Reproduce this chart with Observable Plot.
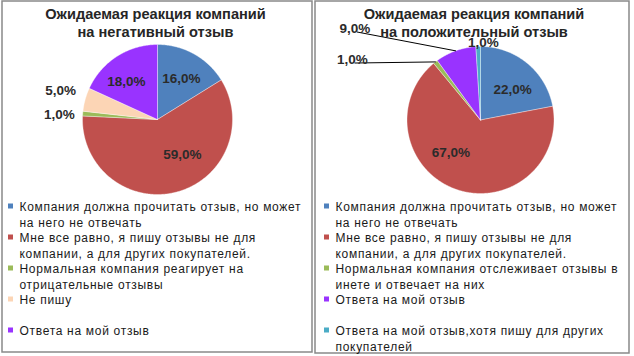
<!DOCTYPE html>
<html><head><meta charset="utf-8">
<script src="https://cdn.jsdelivr.net/npm/d3@7"></script>
<script src="https://cdn.jsdelivr.net/npm/@observablehq/plot@0.6"></script>
<style>
body{margin:0;background:#fff}
#chart svg{display:block;font-family:"Liberation Sans",Arial,sans-serif}
</style>
</head><body><div id="chart"></div>
<script>
// ---- data ----
const titlesNeg = ["Ожидаемая реакция компаний", "на негативный отзыв"];
const titlesPos = ["Ожидаемая реакция компаний", "на положительный отзыв"];
const categoriesNeg = [
  "Компания должна прочитать отзыв, но может\nна него не отвечать",
  "Мне все равно, я пишу отзывы не для\nкомпании, а для других покупателей.",
  "Нормальная компания реагирует на\nотрицательные отзывы",
  "Не пишу",
  "Ответа на мой отзыв"
];
const valuesNeg = [16, 59, 1, 5, 18];
const categoriesPos = [
  "Компания должна прочитать отзыв, но может\nна него не отвечать",
  "Мне все равно, я пишу отзывы не для\nкомпании, а для других покупателей.",
  "Нормальная компания отслеживает отзывы в\nинете и отвечает на них",
  "Ответа на мой отзыв",
  "Ответа на мой отзыв,хотя пишу для других\nпокупателей"
];
const valuesPos = [22, 67, 1, 9, 1];

// ---- styles / layout ----
const colorsNeg = ["#4F81BD", "#C0504D", "#9BBB59", "#FCD5B5", "#9933FF"];
const colorsPos = ["#4F81BD", "#C0504D", "#9BBB59", "#9933FF", "#4BACC6"];
const W = 634, H = 356;
const panels = [
  {x1: 2, y1: 1, x2: 312, y2: 352, cx: 157, cy: 119, r: 75, titleX: 155, titleY: 14,
   legX: 8, legY: 207,
   labels: [{k: .63, dx: 1, dy: 0}, {k: .63, dx: 13, dy: -11}, {k: 1.3, dx: -1, dy: 2.6}, {k: 1.3, dx: -3, dy: -3}, {k: .63, dx: -5.5, dy: 2}]},
  {x1: 315, y1: 1, x2: 629, y2: 353, cx: 480, cy: 119.5, r: 73.5, titleX: 473.5, titleY: 14,
   legX: 324, legY: 207,
   labels: [{k: .63, dx: 2.5, dy: 5}, {k: .63, dx: -14, dy: -11}, {k: 1, dx: -83, dy: -2.4, leader: true}, {k: 1, dx: -100.8, dy: -22.3, leader: true}, {k: 1.1, dx: 5.5, dy: 3}]}
];
const lineStep = 15.5;

const series = [
  {cats: categoriesNeg, vals: valuesNeg, colors: colorsNeg, title: titlesNeg},
  {cats: categoriesPos, vals: valuesPos, colors: colorsPos, title: titlesPos}
];

const slicePts = [], labelPts = [], leaders = [], legendText = [], legendSq = [], titleText = [];
series.forEach((s, pi) => {
  const P = panels[pi];
  const arcs = d3.pie().sort(null).value(d => d)(s.vals);
  arcs.forEach((a, i) => {
    const pt = (ang, rr) => [P.cx + rr * Math.sin(ang), P.cy - rr * Math.cos(ang)];
    const key = pi + "-" + i;
    const pts = [[P.cx, P.cy]];
    const n = Math.max(2, Math.ceil((a.endAngle - a.startAngle) / 0.01));
    for (let j = 0; j <= n; j++) pts.push(pt(a.startAngle + (a.endAngle - a.startAngle) * j / n, P.r));
    pts.push([P.cx, P.cy]);
    pts.forEach(([x, y]) => slicePts.push({x, y, key, color: s.colors[i]}));
    const mid = (a.startAngle + a.endAngle) / 2;
    const L = P.labels[i];
    const [lx, ly] = pt(mid, L.k * P.r);
    const label = s.vals[i].toFixed(1).replace(".", ",") + "%";
    labelPts.push({x: lx + L.dx, y: ly + L.dy, label, anchor: L.leader ? "end" : "middle"});
    if (L.leader) {
      leaders.push({x: lx + L.dx + 2.5, y: ly + L.dy + 3.5, key});
      leaders.push({x: lx, y: ly, key});
    }
  });
  s.title.forEach((t, j) => titleText.push({x: P.titleX, y: P.titleY + j * 18, t}));
  s.cats.forEach((c, i) => {
    const lines = c.split("\n");
    const y0 = P.legY + 2 * i * lineStep;
    legendSq.push({x1: P.legX, x2: P.legX + 5, y1: y0 - 3.5, y2: y0 + 1.5, color: s.colors[i]});
    lines.forEach((ln, j) => legendText.push({x: P.legX + 11, y: y0 + j * lineStep, t: ln}));
  });
});

const chart = Plot.plot({
  width: W, height: H,
  margin: 0,
  x: {domain: [0, W], range: [0, W], axis: null},
  y: {domain: [0, H], range: [0, H], axis: null},
  marks: [
    Plot.rect(panels, {x1: "x1", x2: "x2", y1: "y1", y2: "y2", fill: "white", stroke: "#898989", strokeWidth: 1.5}),
    Plot.line(slicePts, {x: "x", y: "y", z: "key", fill: "color", stroke: "#ffffff", strokeWidth: 0.6, strokeOpacity: 0.6, curve: "linear"}),
    Plot.line(leaders, {x: "x", y: "y", z: "key", stroke: "#000", strokeWidth: 1}),
    Plot.text(labelPts, {x: "x", y: "y", text: "label", textAnchor: "anchor", fontSize: 13.5, fontWeight: "bold", fill: "#2b2b2b"}),
    Plot.text(titleText, {x: "x", y: "y", text: "t", fontSize: 14.6, fontWeight: "bold", fill: "#262626"}),
    Plot.rect(legendSq, {x1: "x1", x2: "x2", y1: "y1", y2: "y2", fill: "color"}),
    Plot.text(legendText, {x: "x", y: "y", text: "t", textAnchor: "start", fontSize: 12, fill: "#1a1a1a"})
  ]
});
// legend text in the reference is drawn with a wide letter spacing
const textGroups = chart.querySelectorAll('g[aria-label="text"]');
textGroups[textGroups.length - 1].setAttribute("letter-spacing", "0.7");
document.getElementById("chart").append(chart);
</script>
</body></html>
